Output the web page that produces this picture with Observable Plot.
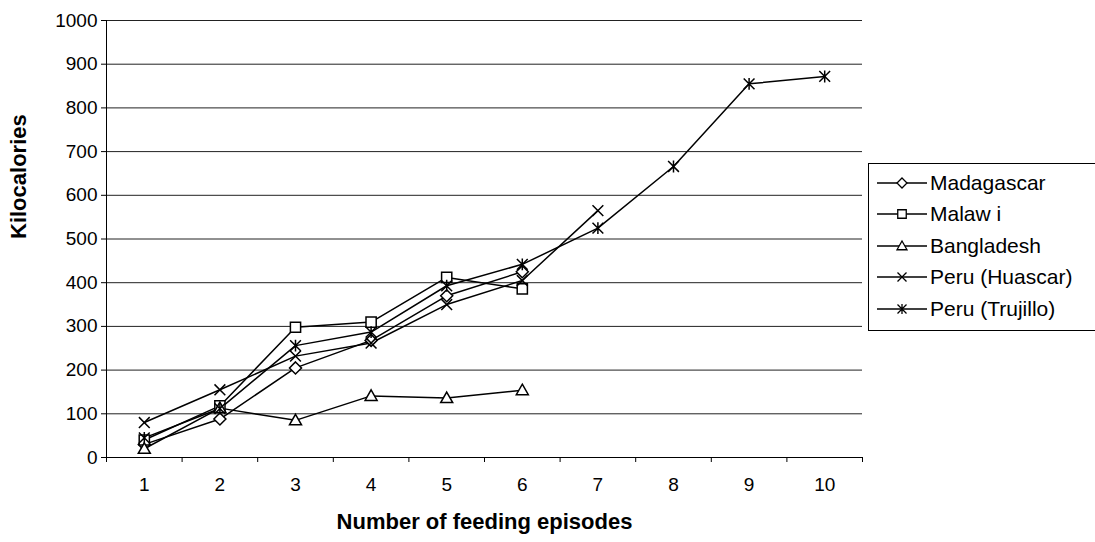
<!DOCTYPE html>
<html>
<head>
<meta charset="utf-8">
<script src="https://cdn.jsdelivr.net/npm/d3@7"></script>
<script src="https://cdn.jsdelivr.net/npm/@observablehq/plot@0.6"></script>
<style>
  html, body { margin: 0; padding: 0; background: #fff; overflow: hidden; }
  #wrap { position: relative; width: 1095px; height: 542px; font-family: "Liberation Sans", Arial, sans-serif; }
  #legend { position: absolute; left: 868px; top: 163px; width: 240px; height: 168px; border: 1px solid #000; box-sizing: border-box; background: #fff; padding-top: 3px; }
  .lrow { display: flex; align-items: center; height: 31.5px; margin-left: 6px; }
  .lrow span { font-size: 21px; color: #000; margin-left: 1px; white-space: pre; }
</style>
</head>
<body>
<div id="wrap"><div id="chart"></div><div id="legend"></div></div>
<script>
// ---- data ----
const episodes = [1, 2, 3, 4, 5, 6, 7, 8, 9, 10];
const seriesNames = ["Madagascar", "Malaw i", "Bangladesh", "Peru (Huascar)", "Peru (Trujillo)"];
const madagascar = [30, 88, 205, 268, 370, 425];
const malawi = [40, 118, 298, 310, 412, 386];
const bangladesh = [20, 113, 85, 141, 136, 154];
const huascar = [80, 155, 232, 262, 350, 405, 565];
const trujillo = [45, 112, 256, 287, 393, 442, 525, 666, 855, 872];
const yTicks = [0, 100, 200, 300, 400, 500, 600, 700, 800, 900, 1000];
const xBounds = [0.5, 1.5, 2.5, 3.5, 4.5, 5.5, 6.5, 7.5, 8.5, 9.5, 10.5];

// ---- marker symbols (half-width r derived from size) ----
const rOf = s => Math.sqrt(s / Math.PI);
const symDiamond = {draw(c, s) { const r = rOf(s); c.moveTo(0, -r); c.lineTo(r, 0); c.lineTo(0, r); c.lineTo(-r, 0); c.closePath(); }};
const symSquare = {draw(c, s) { const r = rOf(s) * 0.85; c.moveTo(-r, -r); c.lineTo(r, -r); c.lineTo(r, r); c.lineTo(-r, r); c.closePath(); }};
const symTriangle = {draw(c, s) { const r = rOf(s); c.moveTo(0, -r); c.lineTo(r, r * 0.75); c.lineTo(-r, r * 0.75); c.closePath(); }};
const symTimes = {draw(c, s) { const r = rOf(s) * 0.9; c.moveTo(-r, -r); c.lineTo(r, r); c.moveTo(-r, r); c.lineTo(r, -r); }};
const symStar = {draw(c, s) { const r = rOf(s) * 0.9; c.moveTo(-r, -r); c.lineTo(r, r); c.moveTo(-r, r); c.lineTo(r, -r); c.moveTo(0, -r * 1.1); c.lineTo(0, r * 1.1); }};

const seriesList = [
  {name: seriesNames[0], values: madagascar, symbol: symDiamond, fill: "white"},
  {name: seriesNames[1], values: malawi, symbol: symSquare, fill: "white"},
  {name: seriesNames[2], values: bangladesh, symbol: symTriangle, fill: "white"},
  {name: seriesNames[3], values: huascar, symbol: symTimes, fill: "none"},
  {name: seriesNames[4], values: trujillo, symbol: symStar, fill: "none"}
];
const tableOf = s => s.values.map((v, i) => ({episode: episodes[i], kcal: v, series: s.name}));

const marks = [
  Plot.ruleY(yTicks, {stroke: "#222", strokeWidth: 1}),
  Plot.axisY({ticks: yTicks, tickSize: 5, tickPadding: 4, tickFormat: d => String(d), label: null, fontSize: 19}),
  Plot.axisX({ticks: xBounds, tickSize: 5, tickFormat: () => "", label: null}),
  Plot.axisX({ticks: episodes, tickSize: 0, tickPadding: 20, tickFormat: d => String(d), label: null, fontSize: 19}),
  Plot.ruleX([0.5], {stroke: "#000"}),
  Plot.ruleY([0], {stroke: "#000"}),
  Plot.text(["Kilocalories"], {frameAnchor: "left", dx: -88, rotate: -90, fontWeight: "bold", fontSize: 22}),
  Plot.text(["Number of feeding episodes"], {frameAnchor: "bottom", dy: 71, fontWeight: "bold", fontSize: 22})
];
for (const s of seriesList) {
  marks.push(Plot.line(tableOf(s), {x: "episode", y: "kcal", stroke: "#000", strokeWidth: 1.5}));
}
for (const s of seriesList) {
  marks.push(Plot.dot(tableOf(s), {x: "episode", y: "kcal", symbol: () => s.symbol, r: 6, stroke: "#000", strokeWidth: 1.5, fill: s.fill}));
}

const chart = Plot.plot({
  width: 1095,
  height: 542,
  marginLeft: 106,
  marginRight: 233,
  marginTop: 20,
  marginBottom: 85,
  x: {type: "linear", domain: [0.5, 10.5]},
  y: {domain: [0, 1000]},
  symbol: {type: "identity"},
  style: {fontFamily: "'Liberation Sans', Arial, sans-serif", fontSize: "19px", color: "#000", background: "#fff", overflow: "visible"},
  marks
});
document.getElementById("chart").appendChild(chart);

// ---- legend ----
const legend = d3.select("#legend");
for (const s of seriesList) {
  const row = legend.append("div").attr("class", "lrow");
  const svg = row.append("svg").attr("width", 54).attr("height", 20);
  svg.append("line").attr("x1", 2).attr("x2", 52).attr("y1", 10).attr("y2", 10).attr("stroke", "#000").attr("stroke-width", 1.5);
  svg.append("path").attr("transform", "translate(27,10)")
    .attr("d", d3.symbol(s.symbol, Math.PI * 25)())
    .attr("stroke", "#000").attr("stroke-width", 1.3).attr("fill", s.fill);
  row.append("span").text(s.name);
}
</script>
</body>
</html>
